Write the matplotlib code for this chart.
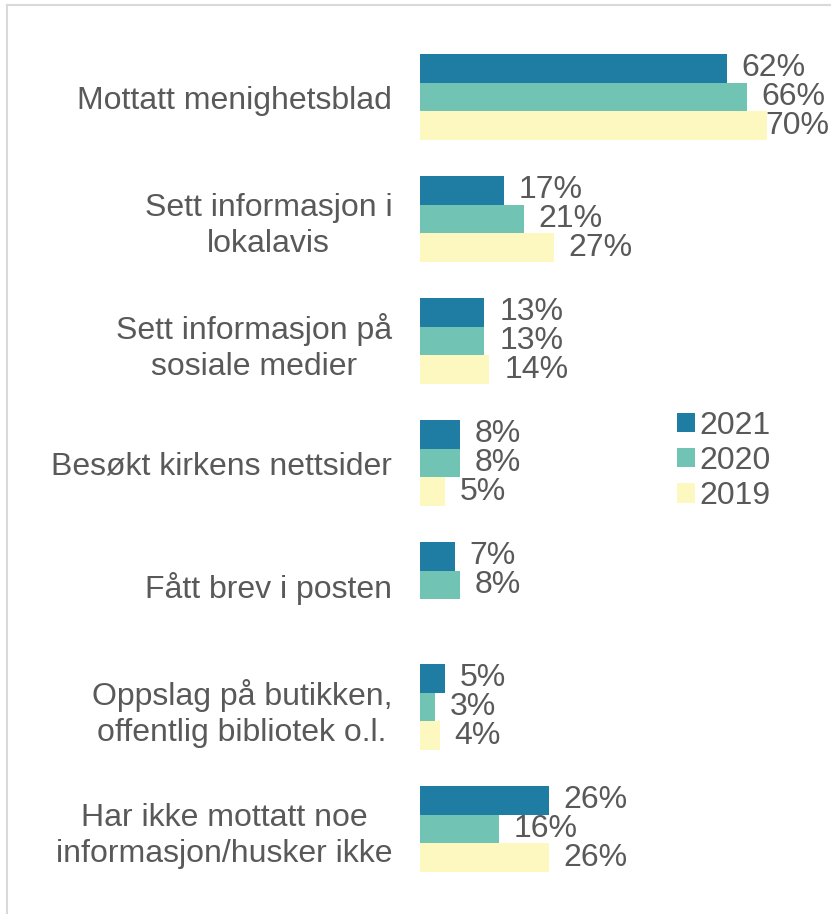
import matplotlib
matplotlib.use("Agg")
import matplotlib.pyplot as plt
from matplotlib.patches import Patch
from matplotlib.lines import Line2D
import numpy as np

categories = [
    "Mottatt menighetsblad",
    "Sett informasjon i\nlokalavis",
    "Sett informasjon på\nsosiale medier",
    "Besøkt kirkens nettsider",
    "Fått brev i posten",
    "Oppslag på butikken,\noffentlig bibliotek o.l.",
    "Har ikke mottatt noe\ninformasjon/husker ikke",
]
series_names = ["2021", "2020", "2019"]
v2021 = [62, 17, 13, 8, 7, 5, 26]
v2020 = [66, 21, 13, 8, 8, 3, 16]
v2019 = [70, 27, 14, 5, None, 4, 26]
colors = ["#1F7CA2", "#71C4B3", "#FDF8BF"]

W, H = 831, 914
fig = plt.figure(figsize=(W / 100, H / 100), dpi=100)
plt.rcParams["font.family"] = ["Liberation Sans", "DejaVu Sans"]
txtcol = "#595959"
fs = 23

ax_left, ax_right = 420, 831
ax_top, ax_bot = 36, 890
ax = fig.add_axes([ax_left / W, 1 - ax_bot / H, (ax_right - ax_left) / W, (ax_bot - ax_top) / H])
px_per = 4.95
xmax = (ax_right - ax_left) / px_per
ax.set_xlim(0, xmax)
n = len(categories)
ax.set_ylim(n - 0.5, -0.5)
for s in ax.spines.values():
    s.set_visible(False)
ax.set_xticks([])
ax.set_yticks(range(n))
ax.set_yticklabels(categories, fontsize=fs, color=txtcol, linespacing=1.28)
ax.tick_params(axis="y", length=0, pad=20)
for lab in ax.get_yticklabels():
    lab.set_horizontalalignment("right")
    lab.set_multialignment("center")

bh = 0.235
offsets = [-bh, 0, bh]
texts = []
for vals, col, off in zip([v2021, v2020, v2019], colors, offsets):
    y = np.arange(n) + off
    v = np.array([np.nan if a is None else a for a in vals], dtype=float)
    ax.barh(y, v, height=bh, color=col, edgecolor="none")
    for yi, vi in zip(y, v):
        if np.isnan(vi):
            continue
        t = ax.text(vi + 3.0, yi, f"{int(vi)}%", va="center", ha="left",
                    fontsize=fs, color=txtcol)
        texts.append(t)

fig.canvas.draw()
r = fig.canvas.get_renderer()
for t in texts:
    bb = t.get_window_extent(r)
    if bb.x1 > W - 2:
        t.set_ha("right")
        x_data = ax.transData.inverted().transform((W - 2, 0))[0]
        t.set_x(x_data)

handles = [Patch(facecolor=c, edgecolor="none") for c in colors]
fig.legend(handles, series_names, loc="upper left",
           bbox_to_anchor=(677 / W, 1 - 411 / H), frameon=False, fontsize=fs,
           labelcolor=txtcol, handlelength=0.55, handleheight=0.55,
           handletextpad=0.15, labelspacing=0.16, borderpad=0, borderaxespad=0)

fig.add_artist(Line2D([7 / W, 7 / W], [0, 1 - 5 / H], transform=fig.transFigure,
                      color="#D9D9D9", lw=1.5))
fig.add_artist(Line2D([7 / W, 1], [1 - 5 / H, 1 - 5 / H], transform=fig.transFigure,
                      color="#D9D9D9", lw=1.5))

fig.savefig("out.png", dpi=100)
